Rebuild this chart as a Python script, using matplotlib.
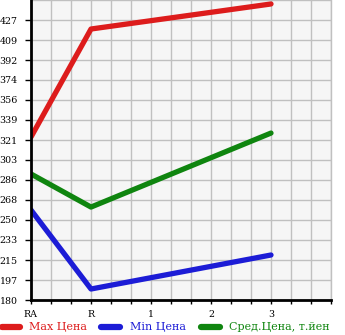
import matplotlib
matplotlib.use("Agg")
import matplotlib.pyplot as plt
import numpy as np
from matplotlib.ticker import FixedLocator
from matplotlib.lines import Line2D

categories = ["RA", "R", "1", "2", "3"]
x_pos = [0, 1, 4]
max_price = [323.8, 419.1, 441.2]
min_price = [259.4, 189.7, 219.7]
avg_price = [291.2, 262.0, 327.3]
y_ticks = [180, 197, 215, 233, 250, 268, 286, 303, 321, 339, 356, 374, 392, 409, 427]
y_min, y_max = 180, 444.7
series_labels = ["Max Цена", "Min Цена", "Сред.Цена, т.йен"]
colors = ["#dd1c1c", "#1c1cd6", "#0f850f"]

W, H = 345, 335
fig = plt.figure(figsize=(W / 100, H / 100), dpi=100)
ax = fig.add_axes([31 / W, 1 - 300 / H, 300 / W, 300 / H])
ax.set_facecolor("#f6f6f6")

step = (y_max - y_min) / 15
grid_y = [y_min + k * step for k in range(16)]

ax.set_xlim(0, 5)
ax.set_ylim(y_min, y_max)

for gx in np.arange(1, 16) / 3:
    ax.axvline(gx, color="#c0c0c0", lw=1.0, zorder=1)
for gy in grid_y[1:]:
    ax.axhline(gy, color="#c0c0c0", lw=1.0, zorder=1)

for vals, c in zip([max_price, min_price, avg_price], colors):
    ax.plot(x_pos, vals, color=c, lw=3.8, solid_capstyle="round", zorder=3)

ax.xaxis.set_major_locator(FixedLocator(range(len(categories))))
ax.set_xticklabels(categories)
ax.xaxis.set_minor_locator(FixedLocator(np.arange(1, 16) / 3))
ax.set_yticks(grid_y[:15])
ax.set_yticklabels([str(v) for v in y_ticks])

font = "DejaVu Serif"
ax.tick_params(axis="x", which="both", direction="out", length=3, width=1, color="black",
               labelsize=6.8, pad=4)
ax.tick_params(axis="y", which="both", direction="out", length=4, width=1, color="black",
               labelsize=6.8, pad=5.5)
for lbl in ax.get_xticklabels() + ax.get_yticklabels():
    lbl.set_fontfamily(font)

ax.spines["top"].set_visible(False)
ax.spines["right"].set_color("#c0c0c0")
ax.spines["right"].set_linewidth(1.0)
ax.spines["left"].set_linewidth(2.0)
ax.spines["bottom"].set_linewidth(2.0)
ax.spines["left"].set_zorder(4)
ax.spines["bottom"].set_zorder(4)

# legend drawn manually at the bottom
leg_y = (H - 327) / H
handle_x = [(2, 20), (101, 120), (201, 220)]
text_x = [29, 130, 229]
for (x0, x1), tx, lab, c in zip(handle_x, text_x, series_labels, colors):
    fig.add_artist(Line2D([x0 / W, x1 / W], [leg_y, leg_y], transform=fig.transFigure,
                          color=c, lw=4.5, solid_capstyle="round"))
    fig.text(tx / W, leg_y, lab, color=c, family=font, fontsize=8.0,
             ha="left", va="center")

fig.savefig("out.png", dpi=100)
